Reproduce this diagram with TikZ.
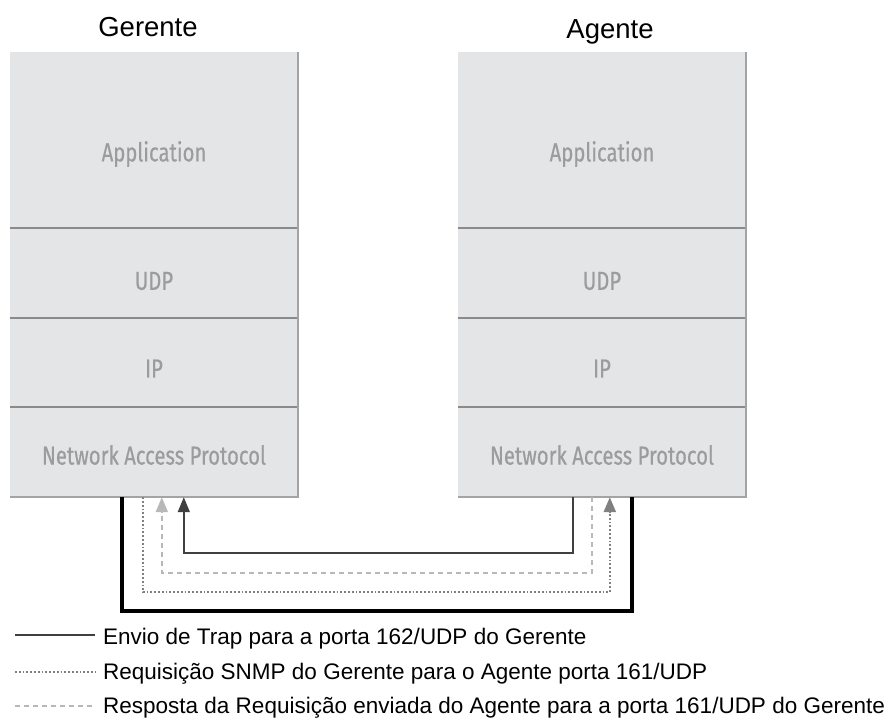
\documentclass[tikz,border=0pt]{standalone}
\usepackage{fontspec}
\setmainfont{Liberation Sans}
\newfontfamily\layerfont[FakeStretch=0.78,FakeBold=0.5]{Fira Sans}
\usetikzlibrary{arrows.meta}
\definecolor{boxgray}{HTML}{E4E5E7}
\definecolor{labgray}{HTML}{9C9C9C}
\definecolor{sepgray}{HTML}{8A8A8A}
\definecolor{shadegray}{HTML}{A4A4A4}
\tikzset{
  layer/.style={fill=boxgray, inner sep=0pt, minimum width=288pt},
  lbl/.style={font=\layerfont\fontsize{26}{30}\selectfont, text=labgray},
  sepline/.style={sepgray, line width=2pt},
  shadeline/.style={shadegray, line width=2.5pt},
  hostname/.style={font=\fontsize{27.5}{32}\selectfont, anchor=base},
  legtext/.style={font=\fontsize{22.5}{26}\selectfont, anchor=base west, inner sep=0pt},
  link/.style={black, line width=4pt},
  trap/.style={black!75, line width=1.6pt},
  request/.style={black!50, line width=2.5pt, dash pattern=on 1.8pt off 2pt},
  response/.style={black!28, line width=1.8pt, dash pattern=on 5pt off 4pt},
  tip/.style={-{Triangle[length=15pt,width=12pt]}}
}

\begin{document}
\begin{tikzpicture}[x=1pt,y=-1pt]
  \useasboundingbox (0,0) rectangle (888,717);

  % Gerente
  \node[hostname] (ger) at (148,37) {Gerente};
  \node[layer, minimum height=176pt, label={[lbl,yshift=-14pt]center:Application}] (gapp) at (154,140) {};
  \node[layer, minimum height=90pt, label={[lbl,yshift=-8pt]center:UDP}] (gudp) at (154,273) {};
  \node[layer, minimum height=89pt, label={[lbl,yshift=-6pt]center:IP}] (gip) at (154,362.5) {};
  \node[layer, minimum height=90pt, label={[lbl,yshift=-3pt]center:Network Access Protocol}] (gnet) at (154,452) {};
  \foreach \n in {gudp,gip,gnet}
    \draw[sepline] (\n.north west) -- (\n.north east);
  \draw[shadeline] (gapp.north east) -- (gnet.south east) -- (gnet.south west);

  % Agente
  \node[hostname] (age) at (610,39) {Agente};
  \node[layer, minimum height=176pt, label={[lbl,yshift=-14pt]center:Application}] (aapp) at (602,140) {};
  \node[layer, minimum height=90pt, label={[lbl,yshift=-8pt]center:UDP}] (audp) at (602,273) {};
  \node[layer, minimum height=89pt, label={[lbl,yshift=-6pt]center:IP}] (aip) at (602,362.5) {};
  \node[layer, minimum height=90pt, label={[lbl,yshift=-3pt]center:Network Access Protocol}] (anet) at (602,452) {};
  \foreach \n in {audp,aip,anet}
    \draw[sepline] (\n.north west) -- (\n.north east);
  \draw[shadeline] (aapp.north east) -- (anet.south east) -- (anet.south west);

  % ends of the connectors
  \coordinate (glink) at ([xshift=112pt]gnet.south west);
  \coordinate (greq) at ([xshift=133pt]gnet.south west);
  \coordinate (gresp) at ([xshift=152pt]gnet.south west);
  \coordinate (gtrap) at ([xshift=174pt]gnet.south west);
  \coordinate (atrap) at ([xshift=115pt]anet.south west);
  \coordinate (aresp) at ([xshift=134pt]anet.south west);
  \coordinate (areq) at ([xshift=152pt]anet.south west);
  \coordinate (alink) at ([xshift=174pt]anet.south west);

  \draw[link] (glink) -- ++(0,114) -| (alink);
  \draw[request, tip] (greq) -- ++(0,95) -| (areq);
  \draw[response, tip] (aresp) -- ++(0,76) -| (gresp);
  \draw[trap, tip] (atrap) -- ++(0,56) -| (gtrap);

  % legenda
  \coordinate (l1) at (15,635);
  \coordinate (l2) at (15,672);
  \coordinate (l3) at (15,706);
  \draw[trap] (l1) -- ++(80,0);
  \draw[request] (l2) -- ++(80,0);
  \draw[response] (l3) -- ++(80,0);
  \node[legtext] (t1) at (103,644) {Envio de Trap para a porta 162/UDP do Gerente};
  \node[legtext] (t2) at (103,679) {Requisição SNMP do Gerente para o Agente porta 161/UDP};
  \node[legtext] (t3) at (103,713) {Resposta da Requisição enviada do Agente para a porta 161/UDP do Gerente};
\end{tikzpicture}
\end{document}
